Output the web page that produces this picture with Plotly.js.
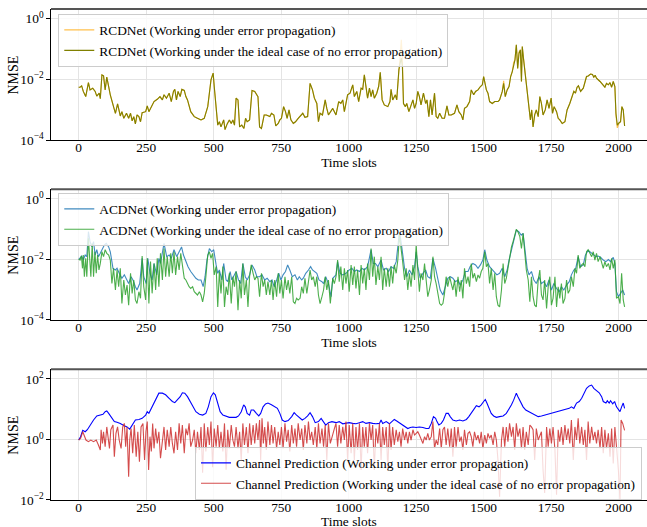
<!DOCTYPE html>
<html><head><meta charset="utf-8">
<script src="https://cdn.plot.ly/plotly-3.0.1.min.js"></script>
<style>html,body{margin:0;padding:0;background:#fff;}#chart{width:647px;height:527px;}</style>
</head><body><div id="chart"></div>
<script>
// ---------- Panel 1: RCDNet ----------
const rcdT = [
0,5,11,17,26,36,42,52,61,67,
76,80,86,92,98,104,111,117,129,136,
144,154,160,167,177,185,192,198,204,210,
216,223,229,235,248,254,260,266,279,291,
301,310,316,325,335,343,351,356,362,368,
376,382,391,397,403,415,428,440,453,465,
478,490,498,502,509,515,521,527,537,542,
550,558,565,571,577,583,590,596,604,612,
618,624,633,642,652,664,670,677,687,695,
708,714,723,730,739,745,751,759,766,772,
779,786,795,803,813,823,830,838,848,857,
866,873,882,888,894,903,913,919,925,941,
953,963,971,978,984,996,1005,1015,1021,1030,
1037,1046,1052,1058,1064,1070,1077,1083,1089,1095,
1104,1111,1117,1124,1132,1145,1153,1157,1163,1173,
1178,1186,1192,1195,1199,1203,1210,1215,1223,1231,
1238,1244,1250,1256,1262,1268,1277,1285,1290,1297,
1303,1309,1318,1324,1330,1337,1346,1355,1364,1371,
1380,1392,1401,1408,1417,1423,1429,1438,1448,1454,
1463,1470,1479,1488,1495,1500,1505,1510,1516,1522,
1532,1541,1553,1559,1569,1574,1580,1587,1594,1600,
1606,1611,1616,1621,1626,1631,1636,1640,1643,1648,
1655,1661,1667,1673,1678,1683,1689,1695,1702,1708,
1714,1720,1728,1735,1742,1750,1755,1761,1770,1776,
1782,1791,1801,1809,1819,1828,1834,1840,1846,1851,
1859,1869,1875,1881,1887,1896,1903,1908,1913,1918,
1931,1943,1949,1955,1962,1968,1974,1980,1986,1990,
1995,2002,2007,2012,2017,2022];
const rcdIdeal = [
5.5e-3,5.5e-3,6.1e-3,4.0e-3,2.7e-3,7.8e-3,4.5e-3,5.1e-3,4.0e-3,2.8e-3,
3.5e-3,2.3e-3,1.4e-2,1.3e-2,4.5e-3,1.18e-2,5.8e-3,3.1e-3,1.26e-3,7.6e-4,
1.55e-3,6.2e-4,8.6e-4,5.2e-4,7.6e-4,5.2e-4,7.6e-4,4.3e-4,5.9e-4,3.4e-4,
6.7e-4,5.9e-4,4.0e-4,8.0e-4,8.6e-4,1.33e-3,8.6e-4,1.1e-3,1.85e-3,2.2e-3,
2.7e-3,2.1e-3,3.1e-3,2.4e-3,3.5e-3,1.85e-3,4.0e-3,4.7e-3,2.1e-3,4.0e-3,
2.7e-3,4.7e-3,4.3e-3,2.7e-3,2.1e-3,8.6e-4,5.9e-4,5.2e-4,4.6e-4,5.2e-4,
1.26e-3,9.6e-3,1.6e-2,5.8e-3,9.8e-4,3.1e-4,4.0e-4,2.7e-4,4.6e-4,2.2e-4,
3.4e-4,4.6e-4,3.5e-4,4.6e-4,3.1e-4,2.4e-3,2.1e-3,2.7e-4,3.1e-4,2.4e-4,
5.2e-4,4.0e-4,4.6e-4,4.3e-3,4.0e-3,2.7e-3,2.7e-4,2.4e-4,6.7e-4,6.7e-4,
5.9e-4,7.6e-4,6.7e-4,2.9e-4,3.5e-4,4.6e-4,5.2e-4,1.26e-3,8.6e-4,5.2e-4,
9.8e-4,4.6e-4,3.5e-4,4.0e-4,5.2e-4,6.7e-4,7.6e-4,5.6e-4,5.9e-4,7.4e-3,
4.5e-3,2.4e-3,1.6e-3,4.0e-4,7.6e-4,6.7e-4,2.1e-3,1.1e-3,6.7e-4,1.1e-3,
6.7e-4,1.85e-3,1.6e-3,2.1e-3,8.6e-4,3.1e-3,3.5e-3,6.6e-3,2.7e-3,4.0e-3,
1.85e-3,5.1e-3,4.7e-3,1.4e-2,6.6e-3,2.4e-3,5.1e-3,2.7e-3,4.5e-3,2.4e-3,
3.5e-3,5.8e-3,1.7e-2,2.1e-3,1.43e-3,1.26e-3,1.85e-3,4.7e-3,2.1e-3,3.1e-3,
2.1e-3,2.1e-2,3.9e-2,5.0e-2,2.6e-2,1.6e-3,1.26e-3,1.6e-3,8.6e-4,1.43e-3,
2.1e-3,1.1e-3,1.6e-3,4.0e-3,2.7e-3,1.43e-3,3.5e-3,1.6e-3,2.1e-3,5.9e-4,
2.1e-3,6.7e-4,3.5e-3,5.9e-4,5.2e-4,7.6e-4,5.2e-4,5.2e-4,1.33e-3,6.7e-4,
6.7e-4,7.6e-4,1.43e-3,8.6e-4,6.7e-4,4.6e-4,1.1e-3,1.26e-3,1.85e-3,4.5e-3,
3.1e-3,4.0e-3,4.5e-3,5.8e-3,6.6e-3,1.24e-2,6.6e-3,4.5e-3,3.5e-3,1.85e-3,
1.6e-3,1.85e-3,1.85e-3,2.1e-3,4.0e-3,7.4e-3,2.7e-3,4.5e-3,5.8e-3,1.24e-2,
1.8e-2,3.0e-2,4.4e-2,1.38e-1,2.3e-2,7.3e-2,9.4e-2,8.5e-3,1.2e-1,4.4e-2,
1.24e-2,4.5e-3,1.26e-3,4.6e-4,9.8e-4,2.7e-4,6.7e-4,9.8e-4,5.9e-4,2.7e-3,
1.6e-3,6.7e-4,9.8e-4,2.1e-3,1.1e-3,2.4e-3,7.6e-4,1.26e-3,8.6e-4,5.2e-4,
4.6e-4,3.5e-4,4.0e-4,9.8e-4,1.6e-3,2.7e-3,4.0e-3,3.5e-3,5.5e-3,6.1e-3,
4.0e-3,5.1e-3,7.4e-3,1.24e-2,1.3e-2,1.5e-2,1.44e-2,1.18e-2,1.37e-2,1.09e-2,
8.5e-3,6.6e-3,5.5e-3,7.4e-3,6.6e-3,7.8e-3,5.5e-3,8.5e-3,5.8e-3,7.6e-4,
3.1e-4,3.7e-4,4.0e-4,1.26e-3,9.8e-4,2.9e-4];
const rcdErr = [
5.5e-3,5.5e-3,6.1e-3,4.0e-3,2.7e-3,7.8e-3,4.5e-3,5.1e-3,4.0e-3,2.8e-3,
3.5e-3,2.3e-3,1.4e-2,1.3e-2,4.5e-3,1.18e-2,5.8e-3,3.1e-3,1.26e-3,7.6e-4,
1.55e-3,6.2e-4,8.6e-4,5.2e-4,7.6e-4,5.2e-4,7.6e-4,4.3e-4,5.9e-4,3.4e-4,
6.7e-4,5.9e-4,4.0e-4,8.0e-4,8.6e-4,1.33e-3,8.6e-4,1.1e-3,1.85e-3,2.2e-3,
2.7e-3,2.1e-3,3.1e-3,2.4e-3,3.5e-3,1.85e-3,4.0e-3,4.7e-3,2.1e-3,4.0e-3,
2.7e-3,4.7e-3,4.3e-3,2.7e-3,2.1e-3,8.6e-4,5.9e-4,5.2e-4,4.6e-4,5.2e-4,
1.26e-3,9.6e-3,1.6e-2,5.8e-3,9.8e-4,3.1e-4,4.0e-4,2.7e-4,4.6e-4,2.2e-4,
3.4e-4,4.6e-4,3.5e-4,4.6e-4,3.1e-4,2.4e-3,2.1e-3,2.7e-4,3.1e-4,2.4e-4,
5.2e-4,4.0e-4,4.6e-4,4.3e-3,4.0e-3,2.7e-3,2.7e-4,2.4e-4,6.7e-4,6.7e-4,
5.9e-4,7.6e-4,6.7e-4,2.9e-4,3.5e-4,4.6e-4,5.2e-4,1.26e-3,8.6e-4,5.2e-4,
9.8e-4,4.6e-4,3.5e-4,4.0e-4,5.2e-4,6.7e-4,7.6e-4,5.6e-4,5.9e-4,7.4e-3,
4.5e-3,2.4e-3,1.6e-3,4.0e-4,7.6e-4,6.7e-4,2.1e-3,1.1e-3,6.7e-4,1.1e-3,
6.7e-4,1.85e-3,1.6e-3,2.1e-3,8.6e-4,3.1e-3,3.5e-3,6.6e-3,2.7e-3,4.0e-3,
1.85e-3,5.1e-3,4.7e-3,1.4e-2,6.6e-3,2.4e-3,5.1e-3,2.7e-3,4.5e-3,2.4e-3,
3.5e-3,5.8e-3,1.7e-2,2.1e-3,1.43e-3,1.26e-3,1.85e-3,4.7e-3,2.1e-3,3.1e-3,
2.1e-3,2.1e-2,6.0e-2,2.0e-1,5.0e-2,1.6e-3,1.26e-3,1.6e-3,8.6e-4,1.43e-3,
2.1e-3,1.1e-3,1.6e-3,4.0e-3,2.7e-3,1.43e-3,3.5e-3,1.6e-3,2.1e-3,5.9e-4,
2.1e-3,6.7e-4,3.5e-3,5.9e-4,5.2e-4,7.6e-4,5.2e-4,5.2e-4,1.33e-3,6.7e-4,
6.7e-4,7.6e-4,1.43e-3,8.6e-4,6.7e-4,4.6e-4,1.1e-3,1.26e-3,1.85e-3,4.5e-3,
3.1e-3,4.0e-3,4.5e-3,5.8e-3,6.6e-3,1.24e-2,6.6e-3,4.5e-3,3.5e-3,1.85e-3,
1.6e-3,1.85e-3,1.85e-3,2.1e-3,4.0e-3,9.0e-3,2.7e-3,4.5e-3,5.8e-3,1.24e-2,
1.8e-2,3.6e-2,4.4e-2,1.38e-1,2.3e-2,8.0e-2,9.4e-2,8.5e-3,1.2e-1,4.4e-2,
1.24e-2,4.5e-3,1.26e-3,4.6e-4,9.8e-4,2.7e-4,6.7e-4,9.8e-4,5.9e-4,2.7e-3,
1.6e-3,6.7e-4,9.8e-4,2.1e-3,1.1e-3,2.4e-3,7.6e-4,1.26e-3,8.6e-4,5.2e-4,
4.6e-4,3.5e-4,4.0e-4,9.8e-4,1.6e-3,2.7e-3,4.0e-3,3.5e-3,5.5e-3,6.1e-3,
4.0e-3,5.1e-3,8.2e-3,1.24e-2,1.3e-2,1.5e-2,1.44e-2,1.18e-2,1.37e-2,1.09e-2,
8.5e-3,6.6e-3,5.5e-3,7.4e-3,6.6e-3,7.8e-3,5.5e-3,8.5e-3,5.8e-3,6.5e-4,
2.5e-4,3.7e-4,4.0e-4,1.26e-3,9.8e-4,2.9e-4];

// ---------- Panel 2: ACDNet ----------
const acdErrT = [
0,11,17,24,30,36,42,49,55,61,
67,73,80,86,95,102,111,117,127,136,
142,150,160,169,177,185,194,201,210,216,
226,235,241,250,256,264,272,279,289,297,
303,316,326,335,343,353,363,372,381,388,
397,405,415,425,434,443,453,461,468,475,
484,493,500,509,515,521,530,537,546,552,
561,567,577,583,592,600,608,617,624,633,
642,652,660,670,679,689,698,708,716,724,
733,741,749,757,766,774,782,791,801,810,
817,826,832,841,851,859,866,873,882,890,
901,907,915,925,935,941,953,959,968,978,
990,1002,1012,1021,1030,1040,1049,1058,1070,1083,
1091,1099,1108,1120,1129,1139,1148,1157,1166,1176,
1183,1188,1194,1200,1207,1215,1225,1235,1244,1250,
1256,1265,1275,1285,1293,1302,1312,1322,1330,1339,
1349,1359,1367,1376,1386,1395,1405,1413,1423,1432,
1442,1450,1460,1470,1479,1488,1497,1504,1512,1522,
1532,1541,1549,1559,1569,1578,1587,1594,1603,1611,
1621,1630,1639,1646,1652,1661,1668,1677,1686,1695,
1705,1714,1723,1733,1742,1751,1760,1770,1780,1788,
1797,1807,1817,1825,1834,1841,1850,1859,1869,1877,
1887,1896,1906,1916,1924,1933,1943,1953,1962,1970,
1980,1986,1992,1999,2007,2015,2022];
const acdErr = [
1.0e-2,1.3e-2,9.6e-3,1.4e-2,1.24e-2,8.3e-2,3.9e-2,2.6e-2,3.9e-2,1.4e-2,
2.1e-2,1.24e-2,1.6e-2,2.1e-2,3.0e-2,3.4e-2,2.6e-2,1.8e-2,5.1e-3,4.5e-3,
5.1e-3,3.5e-3,2.4e-3,3.1e-3,2.1e-3,1.6e-3,2.7e-3,2.1e-3,1.26e-3,9.8e-4,
1.6e-3,1.09e-2,2.7e-3,1.6e-3,1.09e-2,3.5e-3,2.1e-3,7.4e-3,3.1e-3,1.09e-2,
7.4e-3,3.4e-2,1.24e-2,1.4e-2,1.09e-2,2.1e-2,1.24e-2,1.8e-2,2.6e-2,1.4e-2,
8.5e-3,5.8e-3,4.0e-3,3.1e-3,2.4e-3,2.1e-3,2.1e-3,1.26e-3,2.7e-3,9.6e-3,
2.3e-2,1.8e-2,2.1e-2,6.6e-3,3.5e-3,4.5e-3,2.1e-3,7.4e-3,2.1e-3,1.85e-3,
4.0e-3,2.1e-3,3.1e-3,4.0e-3,2.1e-3,1.6e-3,7.4e-3,2.7e-3,2.1e-3,3.1e-3,
6.6e-3,4.5e-3,2.7e-3,2.7e-3,3.1e-3,2.1e-3,2.4e-3,1.85e-3,2.1e-3,1.26e-3,
2.1e-3,3.5e-3,2.1e-3,3.1e-3,4.0e-3,6.6e-3,4.5e-3,2.7e-3,3.1e-3,2.1e-3,
2.7e-3,2.1e-3,2.4e-3,3.5e-3,4.5e-3,5.8e-3,4.5e-3,4.0e-3,3.5e-3,2.1e-3,
1.85e-3,1.6e-3,2.7e-3,1.6e-3,5.9e-4,2.4e-3,3.1e-3,8.5e-3,3.5e-3,3.1e-3,
3.5e-3,4.5e-3,5.1e-3,4.0e-3,4.5e-3,4.0e-3,5.1e-3,4.5e-3,5.8e-3,2.1e-2,
7.4e-3,7.4e-3,5.8e-3,9.6e-3,4.5e-3,5.1e-3,4.0e-3,5.8e-3,5.1e-3,8.5e-3,
2.6e-2,8.3e-2,3.9e-2,1.24e-2,5.1e-3,2.7e-3,4.5e-3,3.1e-3,5.8e-3,1.8e-2,
5.8e-3,2.4e-3,3.5e-3,4.5e-3,2.7e-3,2.4e-3,1.09e-2,5.1e-3,2.4e-3,9.8e-4,
6.7e-4,1.26e-3,2.4e-3,2.7e-3,2.4e-3,1.85e-3,2.1e-3,1.43e-3,2.1e-3,4.0e-3,
4.0e-3,5.8e-3,7.4e-3,6.6e-3,5.1e-3,6.6e-3,9.6e-3,2.1e-2,9.6e-3,5.8e-3,
4.5e-3,3.5e-3,3.1e-3,3.5e-3,5.1e-3,2.7e-3,4.5e-3,9.6e-3,2.1e-2,3.9e-2,
9.4e-2,8.3e-2,6.4e-2,7.3e-2,2.6e-2,5.1e-3,3.1e-3,4.0e-3,2.1e-3,1.6e-3,
2.7e-3,1.6e-3,1.85e-3,1.26e-3,2.1e-3,9.8e-4,1.6e-3,1.1e-3,8.6e-4,1.26e-3,
9.8e-4,1.43e-3,1.85e-3,3.1e-3,4.5e-3,5.1e-3,1.24e-2,5.8e-3,6.6e-3,1.4e-2,
2.0e-2,1.7e-2,1.4e-2,1.24e-2,1.3e-2,1.18e-2,9.6e-3,8.5e-3,1.0e-2,8.5e-3,
1.18e-2,7.4e-3,8.6e-4,5.9e-4,7.6e-4,9.8e-4,6.7e-4];
const acdIdealT = [
0,5,10,14,17,21,26,30,36,40,
45,50,55,60,65,70,75,80,86,92,
98,104,111,117,123,129,136,142,148,154,
160,167,173,179,185,192,198,204,210,216,
223,229,235,241,248,254,260,266,272,279,
285,291,297,303,310,316,322,328,335,341,
347,353,359,366,372,378,384,391,397,403,
409,415,422,428,434,440,447,453,459,465,
471,478,484,490,496,502,509,515,521,527,
534,540,546,552,558,565,571,577,583,590,
596,602,608,614,621,627,633,639,646,652,
658,664,670,677,683,689,695,701,708,714,
720,726,733,739,745,751,757,764,770,776,
782,789,795,801,807,813,820,826,832,838,
845,851,857,863,869,876,882,888,894,901,
907,913,919,925,932,
941,947,953,959,965,971,978,984,990,996,
1002,1009,1015,1021,1027,1033,1040,1046,1052,1058,
1064,1070,1077,1083,1089,1095,1101,1108,1114,1120,
1126,1132,1139,1145,1151,1157,1163,1169,1176,1182,
1188,1194,1200,1207,1213,1219,1225,1231,1238,1244,
1250,1256,1262,1268,1275,1281,1287,1293,1299,1306,
1312,1318,1324,1330,1337,1343,1349,1355,1361,1367,
1374,1380,1386,1392,1398,1405,1411,1417,1423,1429,
1436,1442,1448,1454,1460,1466,1473,1479,1485,1491,
1497,1504,1510,1516,1522,1528,1535,1541,1547,1553,
1559,1566,1572,1578,1584,1590,1596,1603,1609,1615,
1621,1627,1634,1640,1646,1652,1658,1665,1671,1677,
1683,1689,1695,1702,1708,1714,1720,1726,1733,1739,
1745,1751,1757,1764,1770,1776,1782,1788,1794,1801,
1807,1813,1819,1825,1832,1838,1844,1850,1856,1863,
1869,1875,1881,1887,1893,1900,1906,1912,1918,1924,
1931,1937,1943,1949,1955,1962,1968,1974,1980,1986,
1992,1999,2005,2011,2017,2022];
const acdIdeal = [
1.04e-2,9.6e-3,1.3e-2,5.1e-3,1.4e-2,2.7e-3,1.09e-2,2.7e-3,5.0e-2,9.6e-3,
2.7e-3,3.4e-2,2.7e-3,1.8e-2,3.5e-3,1.4e-2,4.5e-3,7.4e-3,1.8e-2,1.24e-2,
2.1e-2,1.6e-2,1.4e-2,9.6e-3,1.6e-3,5.1e-3,9.8e-4,4.5e-3,1.26e-3,5.1e-3,
3.5e-4,2.1e-3,6.7e-4,1.43e-3,3.1e-4,3.5e-3,7.6e-4,2.1e-3,4.6e-4,3.5e-4,
8.6e-4,5.2e-4,1.3e-2,1.26e-3,4.6e-4,1.09e-2,3.5e-4,8.5e-3,7.6e-4,7.4e-3,
9.8e-4,1.09e-2,1.26e-3,1.6e-2,2.1e-3,2.3e-2,2.7e-3,1.24e-2,2.7e-3,1.6e-2,
3.5e-3,1.8e-2,3.1e-3,1.24e-2,4.5e-3,1.6e-2,7.4e-3,2.4e-3,2.1e-3,1.6e-3,
1.26e-3,1.1e-3,1.26e-3,8.6e-4,7.6e-4,6.7e-4,8.6e-4,6.7e-4,4.0e-4,7.6e-4,
2.7e-3,1.4e-2,1.8e-2,1.09e-2,1.6e-2,3.1e-3,5.8e-3,2.7e-4,4.0e-3,7.6e-4,
5.8e-3,2.7e-4,1.26e-3,6.7e-4,3.5e-3,3.5e-4,2.7e-3,1.26e-3,4.0e-3,2.1e-4,
2.1e-3,5.2e-4,7.4e-3,6.7e-4,2.1e-3,2.7e-4,2.7e-3,6.6e-3,3.5e-3,2.1e-3,
2.7e-3,2.4e-3,5.9e-4,3.5e-3,1.26e-3,2.1e-3,6.7e-4,1.85e-3,6.7e-4,2.1e-3,
4.6e-4,2.1e-3,5.9e-4,3.5e-3,7.6e-4,2.1e-3,5.2e-4,2.7e-3,9.8e-4,2.1e-3,
7.6e-4,2.7e-3,4.0e-4,3.5e-4,5.2e-4,4.6e-4,5.2e-4,1.26e-3,7.6e-4,2.4e-3,
7.6e-4,2.1e-3,4.5e-3,2.1e-3,2.7e-3,1.26e-3,2.7e-3,6.7e-4,3.5e-4,5.9e-4,
9.8e-4,2.7e-3,9.8e-4,2.1e-3,3.5e-4,
2.4e-3,1.6e-3,2.7e-3,9.6e-3,1.85e-3,5.8e-3,9.8e-4,5.1e-3,1.6e-3,4.5e-3,
8.6e-4,6.6e-3,1.43e-3,5.8e-3,1.1e-3,4.5e-3,6.7e-4,6.6e-3,1.6e-3,5.1e-3,
9.8e-4,7.4e-3,2.1e-3,2.3e-2,2.7e-3,1.24e-2,1.43e-3,5.8e-3,2.1e-3,1.24e-2,
9.8e-4,5.1e-3,1.26e-3,5.1e-3,1.26e-3,5.8e-3,1.6e-3,6.6e-3,3.5e-3,9.6e-3,
6.4e-2,2.6e-2,8.5e-3,2.1e-3,5.1e-3,9.8e-4,3.5e-3,1.26e-3,6.6e-3,2.1e-3,
3.0e-2,4.5e-3,8.6e-4,3.5e-3,2.1e-3,7.4e-3,2.1e-3,5.9e-4,9.8e-4,2.1e-3,
1.24e-2,2.7e-3,1.6e-3,6.7e-4,3.5e-4,3.1e-4,3.5e-4,7.6e-4,2.7e-3,1.26e-3,
2.7e-3,1.6e-3,9.8e-4,2.1e-3,5.9e-4,2.7e-3,8.6e-4,2.1e-3,5.2e-4,5.1e-3,
1.6e-3,2.7e-3,1.26e-3,7.4e-3,2.4e-3,3.5e-3,1.85e-3,3.1e-3,2.4e-3,4.0e-3,
5.1e-3,1.8e-2,5.8e-3,7.4e-3,1.6e-3,5.1e-3,9.8e-4,3.5e-3,5.9e-4,3.1e-4,
2.7e-4,9.8e-4,7.4e-3,1.6e-3,2.4e-3,5.1e-3,1.24e-2,2.6e-2,3.9e-2,6.4e-2,
9.9e-2,8.3e-2,5.7e-2,2.3e-2,7.3e-2,1.8e-2,4.5e-3,2.1e-3,4.0e-4,2.7e-3,
5.9e-4,3.1e-4,2.7e-4,2.1e-3,4.5e-3,6.7e-4,4.6e-4,2.1e-3,2.4e-4,1.26e-3,
2.7e-3,3.1e-4,5.2e-4,2.7e-3,2.7e-4,1.26e-3,5.2e-4,1.6e-3,3.5e-4,5.2e-4,
2.1e-3,7.6e-4,9.8e-4,2.7e-3,1.26e-3,5.1e-3,3.5e-3,1.4e-2,5.1e-3,6.6e-3,
7.4e-3,5.8e-3,1.8e-2,2.1e-2,1.6e-2,1.24e-2,1.8e-2,9.6e-3,1.6e-2,8.5e-3,
1.24e-2,7.4e-3,5.1e-3,8.5e-3,5.8e-3,7.4e-3,4.5e-3,1.09e-2,5.1e-3,9.6e-3,
5.2e-4,5.9e-4,3.5e-4,3.5e-3,4.6e-4,2.7e-4];

// ---------- Panel 3: Channel Prediction ----------
const cpErrT = [
0,7,15,24,32,42,55,67,80,90,
98,104,111,121,132,142,154,167,179,189,
198,210,223,235,248,254,260,269,279,289,
297,310,322,335,347,356,366,376,384,393,
403,413,422,434,447,459,471,480,490,499,
506,515,524,534,546,558,571,583,592,602,
611,617,624,633,639,648,658,667,674,683,
692,701,714,726,736,745,754,764,776,789,
798,807,817,828,838,848,857,866,876,888,
898,907,915,925,938,953,965,978,990,1002,
1015,1027,1040,1052,1064,1077,1089,1101,1114,1120,
1126,1139,1151,1163,1169,1178,1188,1200,1210,1219,
1228,1238,1250,1262,1275,1287,1297,1306,1314,1322,
1327,1334,1343,1351,1361,1369,1376,1386,1398,1411,
1423,1436,1445,1454,1463,1473,1483,1491,1500,1506,
1512,1520,1528,1537,1547,1559,1572,1584,1594,1603,
1611,1621,1627,1636,1646,1656,1668,1677,1689,1702,
1714,1726,1739,1751,1764,1776,1785,1794,1807,1817,
1825,1834,1844,1854,1863,1871,1881,1891,1900,1908,
1918,1928,1937,1943,1953,1958,1965,1970,1978,1985,
1992,1999,2005,2011,2017,2022];
const cpErr = [
0.96,1.24,2.0,1.8,2.1,3.0,4.4,6.0,6.4,6.8,
8.3,8.8,7.3,5.4,3.9,3.7,3.4,2.9,2.6,2.2,
3.0,4.4,4.6,5.0,6.4,8.3,7.3,10.7,18,27,
34,34,30,23,18,16.5,20,26,35,34,
26,18,12,8.3,6.8,6.4,7.3,12,26,35,
30,14,8.3,6.4,5.7,5.4,5.4,5.4,6.0,8.3,
14,12,7.3,6.4,9.4,9.4,7.3,6.0,7.3,12,
15,16,14,12,10.7,7.3,4.4,3.9,4.2,5.7,
7.7,6.4,5.4,4.4,5.0,6.0,7.7,5.7,3.6,3.9,
5.0,3.9,3.0,3.6,3.9,3.6,3.9,3.3,3.4,3.6,
3.4,3.3,3.6,3.9,3.4,3.6,3.4,3.3,3.4,4.4,
3.4,3.9,3.3,4.1,4.6,4.1,3.6,3.0,2.6,2.3,
2.5,2.6,2.5,2.6,2.5,2.3,2.3,3.4,5.7,5.0,
3.9,3.0,3.4,4.4,7.3,7.3,5.7,4.4,4.1,4.4,
4.1,4.6,5.7,7.3,9.4,13,12,14,18,21,
16,10.7,7.3,6.0,5.4,5.7,6.0,7.3,9.9,14,
20,34,26,18,12,9.4,8.3,7.3,6.4,5.7,
6.0,6.4,7.0,7.3,7.7,8.3,8.8,9.4,9.9,10.7,
12,10.7,16,18,23,34,49,59,63,49,
41,35,26,18,16,19,16,19,15,18,
12,9.4,8.3,12,16,10.7];
const cpIdealT = [
0,7,15,20,27,36,45,55,65,73,
80,83,88,92,98,104,111,114,119,127,
132,138,144,150,157,163,169,174,179,185,
189,194,200,206,213,219,225,231,238,244,
249,254,259,264,269,274,279,285,291,297,
303,310,316,322,328,335,341,347,353,359,
366,372,378,384,391,397,403,409,415,422,
428,434,440,447,453,459,465,471,478,484,
490,496,502,509,515,521,527,534,540,546,
552,558,565,571,577,583,590,596,602,608,
614,621,627,633,639,646,652,658,664,670,
674,679,684,689,695,701,708,714,720,726,
733,739,745,751,757,764,770,776,782,789,
795,801,807,813,820,826,832,838,845,851,
857,863,869,876,882,888,894,901,907,913,
919,925,932,947,953,959,965,971,978,984,
990,996,1002,1009,1015,1021,1027,1033,1040,1046,
1052,1058,1064,1070,1077,1083,1089,1095,1101,1108,
1114,1120,1126,1132,1139,1145,1151,1157,1163,1169,
1176,1182,1188,1194,1200,1207,1213,1219,1225,1231,
1238,1244,1250,1256,1262,1268,1275,1281,1287,1293,
1299,1306,1312,1318,1324,1330,1337,1343,1349,1355,
1361,1367,1374,1380,1386,1392,1398,1405,1411,1417,
1423,1429,1436,1442,1448,1454,1460,1466,1473,1479,
1485,1491,1497,1504,1510,1516,1522,1528,1535,1541,
1547,1553,1559,1566,1572,1578,1584,1590,1596,1603,
1609,1615,1621,1627,1634,1640,1646,1652,1658,1665,
1671,1677,1683,1689,1695,1702,1708,1714,1720,1726,
1733,1739,1745,1751,1757,1764,1770,1776,1782,1788,
1794,1801,1807,1813,1819,1825,1832,1838,1844,1850,
1856,1863,1869,1875,1881,1887,1893,1900,1906,1912,
1918,1924,1931,1937,1943,1949,1955,1962,1968,1974,
1980,1986,1992,1999,2005,2009,2015,2020,2022];
const cpIdeal = [
0.96,1.09,1.8,1.4,0.96,0.85,0.96,0.85,0.96,0.66,
0.45,2.1,0.74,1.8,0.58,2.6,0.96,0.51,2.1,3.0,
0.27,1.6,2.6,0.96,0.51,2.6,3.4,0.58,2.6,0.059,
0.96,2.3,0.35,3.0,0.27,1.8,0.185,2.6,3.4,0.21,
1.8,3.9,0.098,1.24,0.40,3.4,0.51,2.3,0.74,1.8,
0.24,0.96,2.6,0.45,2.1,0.58,2.6,0.74,0.35,1.8,
0.45,3.4,0.74,3.0,0.35,2.3,1.4,3.4,0.58,0.96,
2.1,0.35,1.8,0.45,2.6,0.08,3.4,0.40,2.6,0.66,
3.9,0.12,2.3,0.58,3.0,0.51,1.8,0.40,3.4,0.1,
2.1,0.51,3.0,0.96,0.58,2.6,0.51,1.8,0.2,3.4,
0.66,2.6,0.35,3.4,0.66,3.0,0.74,3.4,0.96,4.4,
0.21,5.0,0.74,2.6,0.45,3.9,0.66,3.0,0.74,2.6,
0.51,1.8,0.66,2.6,0.51,3.4,0.85,2.1,0.40,3.0,
0.74,2.3,0.58,3.4,0.96,2.3,0.45,3.0,0.74,3.9,
0.96,1.8,0.66,2.6,0.51,3.4,0.74,2.3,0.58,3.0,
0.21,3.4,0.74,2.3,3.4,0.58,3.0,0.74,2.6,0.96,
3.9,0.21,3.0,0.35,3.4,0.21,2.6,0.45,3.4,0.098,
2.6,0.58,2.6,0.35,3.4,0.96,3.0,0.098,2.3,0.74,
3.4,0.21,2.6,0.66,2.6,0.098,3.4,0.45,2.6,0.66,
2.1,0.85,1.8,0.58,2.3,0.96,1.8,0.74,1.8,0.96,
2.1,1.4,1.6,1.8,1.4,0.96,0.74,1.24,0.96,1.6,
0.96,1.24,3.9,0.51,0.96,0.66,2.3,0.51,2.1,2.6,
0.66,2.3,0.58,2.3,0.27,2.6,0.58,2.6,0.85,1.24,
0.45,2.1,0.66,1.6,1.8,1.24,0.58,1.8,0.96,1.4,
0.74,1.8,0.51,1.4,0.74,1.6,1.09,1.4,0.66,1.8,
0.96,0.21,0.0128,0.96,2.6,0.58,2.6,0.85,3.4,1.24,
2.6,0.45,3.4,1.24,2.3,0.51,2.6,0.45,1.8,0.66,
3.0,2.6,2.1,0.21,2.3,0.96,1.4,1.8,0.098,0.017,
2.6,0.58,2.3,0.74,2.6,0.45,0.015,2.1,0.85,2.6,
0.66,3.0,0.96,2.3,0.74,4.4,0.21,2.6,0.96,5.0,
0.74,2.6,0.66,2.1,0.21,3.9,0.74,2.6,0.96,1.8,
0.74,2.1,0.51,2.6,0.35,2.1,0.51,1.6,0.27,2.3,
0.16,2.6,0.58,0.098,0.0099,4.4,3.4,2.1,2.0];

// ---------- labels ----------
const legendNames = [
  'RCDNet (Working under error propagation)',
  'RCDNet (Working under the ideal case of no error propagation)',
  'ACDNet (Working under error propagation)',
  'ACDNet (Working under the ideal case of no error propagation)',
  'Channel Prediction (Working under error propagation)',
  'Channel Prediction (Working under the ideal case of no error propagation)'
];
const xTitle = 'Time slots';
const yTitle = 'NMSE';
const yTickVals12 = [1e-4, 1e-2, 1];
const yTickText12 = ['10<sup>\u22124</sup>', '10<sup>\u22122</sup>', '10<sup>0</sup>'];
const yTickVals3 = [1e-2, 1, 100];
const yTickText3 = ['10<sup>\u22122</sup>', '10<sup>0</sup>', '10<sup>2</sup>'];

// ---------- figure ----------
const FONT = 'Liberation Serif, Times New Roman, serif';
const FS = 13.4;
const lw = 1.1;
const traces = [
  {x: rcdT, y: rcdErr, name: legendNames[0], xaxis:'x', yaxis:'y', legend:'legend', mode:'lines', line:{color:'rgba(255,165,0,0.7)', width:lw}},
  {x: rcdT, y: rcdIdeal, name: legendNames[1], xaxis:'x', yaxis:'y', legend:'legend', mode:'lines', line:{color:'#808000', width:lw}},
  {x: acdErrT, y: acdErr, name: legendNames[2], xaxis:'x2', yaxis:'y2', legend:'legend2', mode:'lines', line:{color:'rgba(31,119,180,0.85)', width:lw}},
  {x: acdIdealT, y: acdIdeal, name: legendNames[3], xaxis:'x2', yaxis:'y2', legend:'legend2', mode:'lines', line:{color:'rgba(44,160,44,0.85)', width:lw}},
  {x: cpErrT, y: cpErr, name: legendNames[4], xaxis:'x3', yaxis:'y3', legend:'legend3', mode:'lines', line:{color:'#0000ff', width:lw}},
  {x: cpIdealT, y: cpIdeal, name: legendNames[5], xaxis:'x3', yaxis:'y3', legend:'legend3', mode:'lines', line:{color:'rgba(205,45,45,0.85)', width:lw}}
];

function xa(anchor, withTitle){
  const a = {anchor: anchor, domain:[0,1], range:[-102.6, 2105], tick0:0, dtick:250,
    showgrid:true, gridcolor:'#e4e4e4', gridwidth:1, zeroline:false,
    showline:true, linecolor:'#000', linewidth:1.2, ticks:'', ticklabelstandoff:-5,
    tickfont:{family:FONT, size:FS, color:'#000'}};
  if (withTitle) a.title = {text:xTitle, font:{family:FONT, size:FS, color:'#000'}, standoff:2};
  return a;
}
function ya(anchor, dom, rng, tv, tt){
  return {anchor: anchor, domain: dom, type:'log', range: rng, tickvals: tv, ticktext: tt,
    showgrid:true, gridcolor:'#e4e4e4', gridwidth:1, zeroline:false,
    showline:true, linecolor:'#000', linewidth:1.2, ticks:'outside', ticklen:3.5, tickcolor:'#000', tickwidth:1,
    tickfont:{family:FONT, size:FS, color:'#000'}};
}
function yTitleAnn(yr){
  return {text: yTitle, xref:'paper', yref: yr + ' domain', x:-0.0621, y:0.5, xanchor:'center', yanchor:'middle',
    textangle:-90, showarrow:false, font:{family:FONT, size:14, color:'#000'}};
}
function legendAt(x, y){
  return {x:x, y:y, xanchor:'left', yanchor:'top', bgcolor:'rgba(255,255,255,0.8)',
    bordercolor:'#cccccc', borderwidth:1, font:{family:FONT, size:FS, color:'#000'},
    itemwidth:30, tracegroupgap:0, traceorder:'normal'};
}
function topLine(xr, yr){
  return {type:'line', xref: xr + ' domain', yref: yr + ' domain', x0:0, x1:1, y0:1, y1:1,
    line:{color:'#555', width:2}, layer:'above'};
}

const layout = {
  width:647, height:527,
  margin:{l:51, r:0, t:9, b:27},
  paper_bgcolor:'#fff', plot_bgcolor:'#fff',
  font:{family:FONT, size:FS, color:'#000'},
  showlegend:true, hovermode:false,
  xaxis: xa('y', true), yaxis: ya('x', [0.7332, 1], [-4, 0.32], yTickVals12, yTickText12),
  xaxis2: xa('y2', true), yaxis2: ya('x2', [0.3666, 0.6328], [-4, 0.32], yTickVals12, yTickText12),
  xaxis3: xa('y3', false), yaxis3: ya('x3', [0, 0.2662], [-2, 2.32], yTickVals3, yTickText3),
  legend: legendAt(0.0122, 0.9904),
  legend2: legendAt(0.0122, 0.6259),
  legend3: legendAt(0.2416, 0.1086),
  shapes: [topLine('x','y'), topLine('x2','y2'), topLine('x3','y3')],
  annotations: [yTitleAnn('y'), yTitleAnn('y2'), yTitleAnn('y3'),
    {text: xTitle, xref:'x3 domain', yref:'paper', x:0.5, y:-0.0448, xanchor:'center', yanchor:'middle',
     showarrow:false, font:{family:FONT, size:FS, color:'#000'}}]
};

Plotly.newPlot('chart', traces, layout, {displayModeBar:false, staticPlot:true});
</script>
</body></html>
